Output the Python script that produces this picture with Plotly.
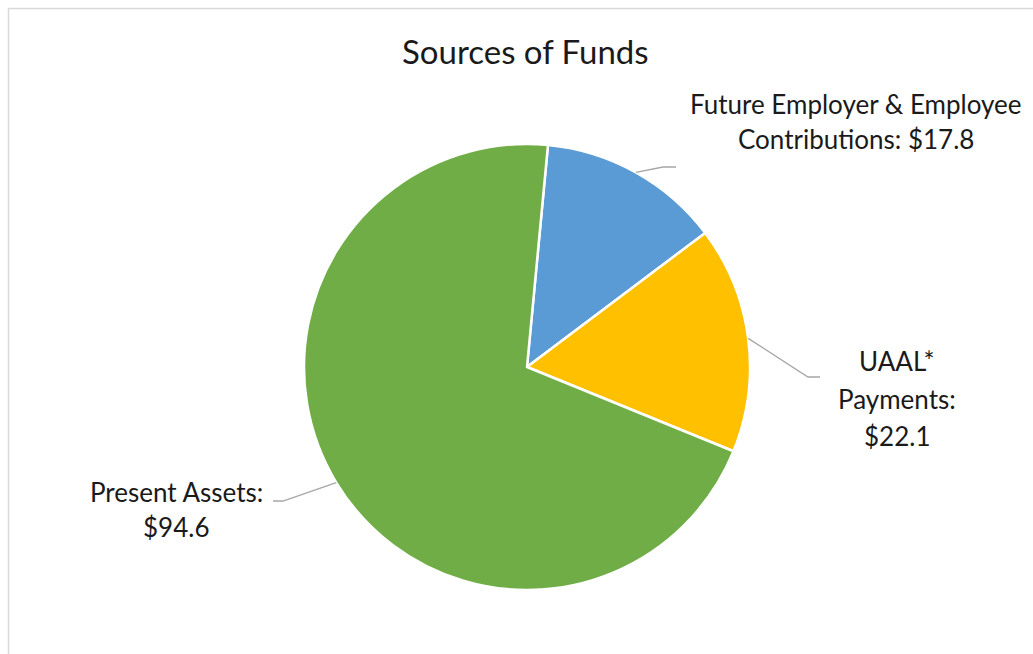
import math
import plotly.graph_objects as go

# Sources of funds (in $ billions)
categories = ["Future Employer & Employee Contributions", "UAAL* Payments", "Present Assets"]
label_lines = [["Future Employer & Employee", "Contributions: "], ["UAAL*", "Payments:", ""], ["Present Assets:", ""]]
values = [17.8, 22.1, 94.6]
colors = ["#5B9BD5", "#FFC000", "#70AD47"]

W, H = 1033, 654
CX, CY, R = 527, 367, 223
ROTATION = 5.4
FONT = "Lato, 'Open Sans', sans-serif"

def px(x):
    return x / W

def py(y):
    return 1 - y / H

fig = go.Figure(go.Pie(
    labels=categories,
    values=values,
    marker=dict(colors=colors, line=dict(color="white", width=2.5)),
    sort=False,
    direction="clockwise",
    rotation=ROTATION,
    textinfo="none",
    hoverinfo="label+value",
    showlegend=False,
    domain=dict(x=[px(CX - R), px(CX + R)], y=[py(CY + R), py(CY - R)]),
))

# label block placement: (center x, first line y, line spacing), leader elbow and end
label_pos = [(856, 104, 35), (897, 361, 37.5), (176, 492, 35)]
leader_elbow = [(663, 167), (808, 377), (283, 501)]
leader_end = [(676, 167), (820, 377), (273, 501)]

total = sum(values)
start = ROTATION
annotations = []
shapes = []
for i, v in enumerate(values):
    span = v / total * 360
    mid = math.radians(start + span / 2)
    start += span
    x0 = CX + R * math.sin(mid)
    y0 = CY - R * math.cos(mid)
    (ex, ey), (fx, fy) = leader_elbow[i], leader_end[i]
    shapes.append(dict(type="path", xref="paper", yref="paper",
                       path=f"M {px(x0)},{py(y0)} L {px(ex)},{py(ey)} L {px(fx)},{py(fy)}",
                       line=dict(color="#A6A6A6", width=1.3)))
    lines = list(label_lines[i])
    lines[-1] = lines[-1] + f"${v:.1f}"
    cx, y1, dy = label_pos[i]
    for j, t in enumerate(lines):
        annotations.append(dict(text=t, x=px(cx), y=py(y1 + j * dy), xref="paper", yref="paper",
                                xanchor="center", yanchor="middle", showarrow=False,
                                font=dict(family=FONT, size=26, color="#1a1a1a")))

annotations.append(dict(text="Sources of Funds", x=px(525), y=py(51), xref="paper", yref="paper",
                        xanchor="center", yanchor="middle", showarrow=False,
                        font=dict(family=FONT, size=33, color="#1a1a1a")))

# chart frame
shapes.append(dict(type="rect", xref="paper", yref="paper", x0=px(8.5), y0=py(H + 5), x1=px(W + 5), y1=py(8.5),
                   line=dict(color="#D9D9D9", width=1.5), layer="below"))

fig.update_layout(
    width=W, height=H,
    margin=dict(l=0, r=0, t=0, b=0),
    paper_bgcolor="white",
    plot_bgcolor="white",
    annotations=annotations,
    shapes=shapes,
)

fig.write_html("out.html")
